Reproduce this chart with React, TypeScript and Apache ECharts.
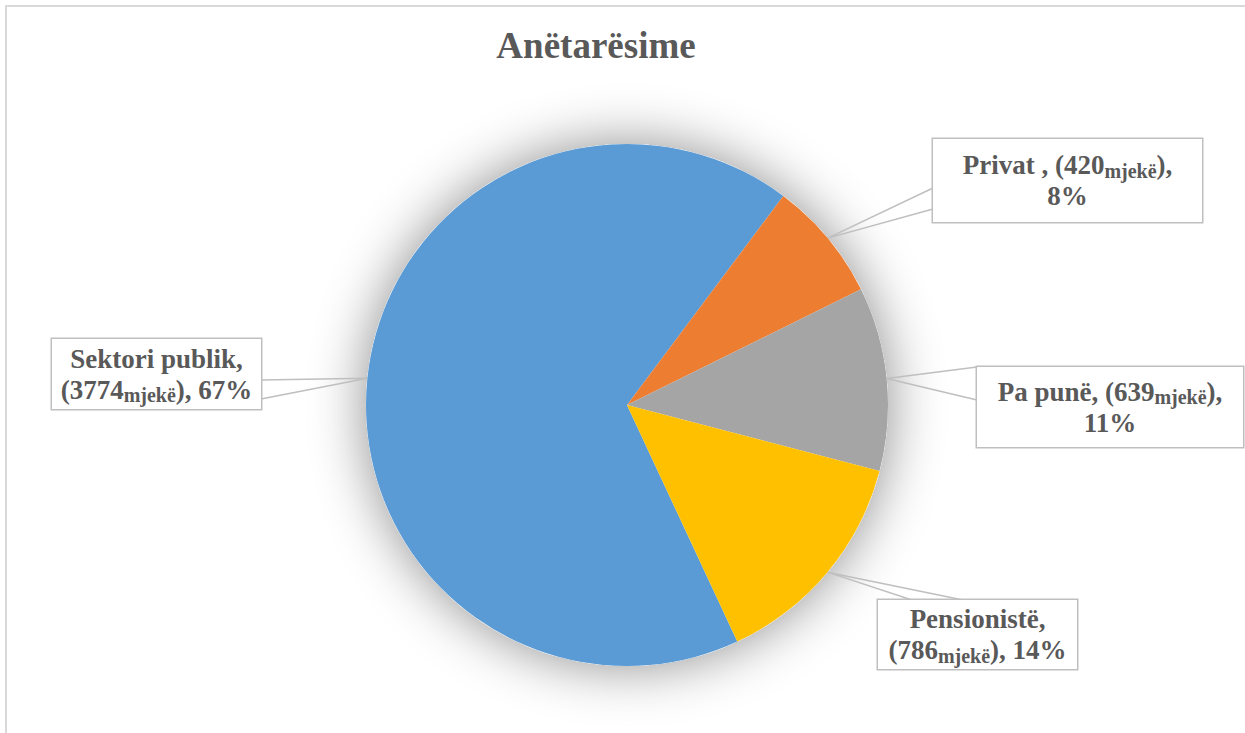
import React, { useEffect, useRef } from "react";
import * as echarts from "echarts";

const chartTitle = "Anëtarësime";
const categories = ["Sektori publik", "Privat", "Pa punë", "Pensionistë"];
const doctors = [3774, 420, 639, 786];
const unit = "mjekë";
const colors = ["#5B9BD5", "#ED7D31", "#A5A5A5", "#FFC000"];

// Label box layout (pixels): left, top, width, height, callout side, two offsets along that side
const labelBoxes = [
  { x: 52, y: 339, w: 209, h: 70, side: "right", a: 41, b: 60, sep: ", ", wrapName: true },
  { x: 933, y: 139, w: 269, h: 83, side: "left", a: 49, b: 70, sep: " , ", wrapName: false },
  { x: 977, y: 367, w: 266, h: 80, side: "left", a: 0, b: 33, sep: ", ", wrapName: false },
  { x: 878, y: 600, w: 199, h: 69, side: "top", a: 34, b: 85, sep: ", ", wrapName: true },
];

const FONT = "'Liberation Serif', 'Times New Roman', serif";
const TEXT = "#595959";
const LH = 31;
const CENTER = [627, 405];
const RADIUS = 261;

export default function App() {
  const ref = useRef<HTMLDivElement>(null);
  useEffect(() => {
    if (!ref.current) return;
    const chart = echarts.init(ref.current, null, { renderer: "svg" });
    const data = categories.map((name, i) => {
      const b = labelBoxes[i];
      const py = Math.max(0, (b.h - 2 * LH) / 2);
      return {
        name,
        value: doctors[i],
        itemStyle: { color: colors[i] },
        label: { width: b.w, padding: [py, 0, b.h - 2 * LH - py, 0] },
      };
    });
    chart.setOption({
      animation: false,
      backgroundColor: "#ffffff",
      title: {
        text: chartTitle,
        left: 591,
        top: 22,
        textAlign: "center",
        textStyle: { fontFamily: FONT, fontWeight: "bold", fontSize: 37, color: TEXT },
      },
      graphic: [
        {
          type: "rect",
          shape: { x: 6, y: 6, width: 1400, height: 900 },
          style: { fill: "none", stroke: "#d9d9d9", lineWidth: 2 },
          silent: true,
          z: -10,
        },
      ],
      series: [
        {
          type: "pie",
          silent: true,
          center: CENTER,
          radius: RADIUS,
          z: 1,
          label: { show: false },
          labelLine: { show: false },
          emphasis: { disabled: true },
          itemStyle: {
            color: "#ffffff",
            shadowBlur: 55,
            shadowColor: "rgba(0,0,0,0.45)",
          },
          data: [{ value: 1, name: "" }],
          tooltip: { show: false },
        },
        {
          type: "pie",
          center: CENTER,
          radius: RADIUS,
          z: 2,
          startAngle: -65,
          clockwise: true,
          percentPrecision: 0,
          avoidLabelOverlap: false,
          emphasis: { disabled: true },
          data,
          label: {
            show: true,
            position: "outside",
            overflow: "none",
            backgroundColor: "#ffffff",
            borderColor: "#bfbfbf",
            borderWidth: 1.5,
            fontFamily: FONT,
            formatter: (p: any) => {
              const b = labelBoxes[p.dataIndex];
              if (b.wrapName) {
                return `{m|${p.name}${b.sep.trimEnd()}}\n{m|(${p.value}}{s|${unit}}{m|), ${p.percent}%}`;
              }
              return `{m|${p.name}${b.sep}(${p.value}}{s|${unit}}{m|),}\n{m|${p.percent}%}`;
            },
            rich: {
              m: { fontFamily: FONT, fontWeight: "bold", fontSize: 27, color: TEXT, lineHeight: LH, align: "center" },
              s: {
                fontFamily: FONT,
                fontWeight: "bold",
                fontSize: 20,
                color: TEXT,
                lineHeight: 28,
                verticalAlign: "bottom",
                align: "center",
              },
            },
          },
          labelLine: {
            show: true,
            length: 20,
            length2: 20,
            lineStyle: { color: "#bfbfbf", width: 1.5 },
          },
          labelLayout: (params: any) => {
            const b = labelBoxes[params.dataIndex];
            if (!b) return {};
            const apex = params.labelLinePoints ? params.labelLinePoints[0] : CENTER;
            let A: number[], B: number[];
            if (b.side === "right") {
              A = [b.x + b.w, b.y + b.a];
              B = [b.x + b.w, b.y + b.b];
            } else if (b.side === "left") {
              A = [b.x, b.y + b.a];
              B = [b.x, b.y + b.b];
            } else {
              A = [b.x + b.a, b.y];
              B = [b.x + b.b, b.y];
            }
            return {
              x: b.x + b.w / 2,
              y: b.y,
              align: "center",
              verticalAlign: "top",
              labelLinePoints: [A, apex, B],
            };
          },
        },
      ],
    });
    return () => chart.dispose();
  }, []);
  return (
    <div
      ref={ref}
      style={{ position: "fixed", left: 0, top: 0, width: 1245, height: 733 }}
    />
  );
}
